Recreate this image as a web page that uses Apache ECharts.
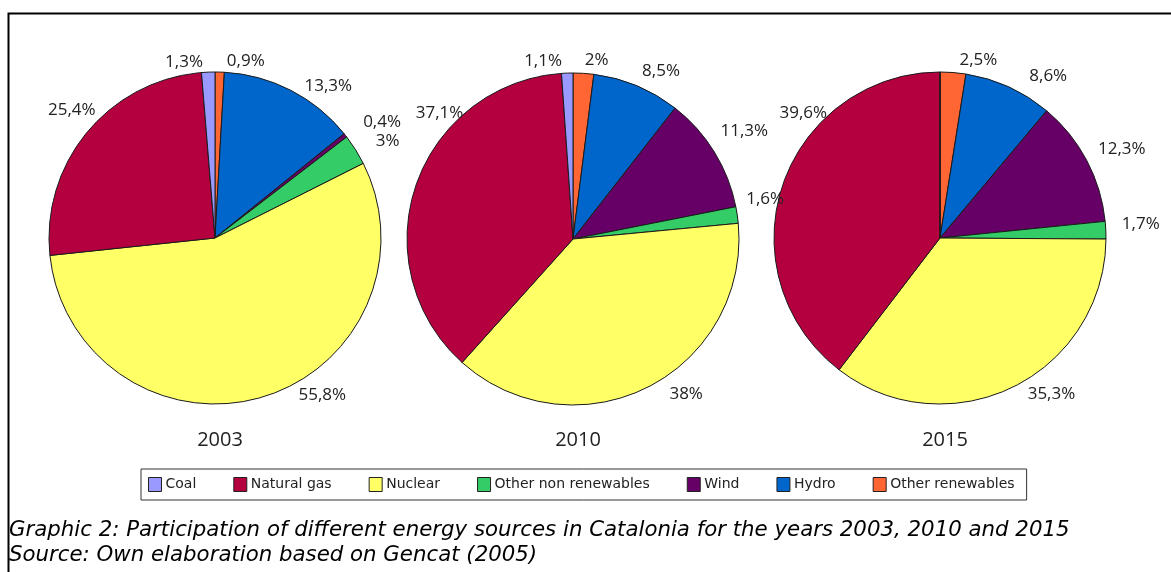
<!DOCTYPE html>
<html>
<head>
<meta charset="utf-8">
<script src="https://cdn.jsdelivr.net/npm/echarts@6/dist/echarts.min.js"></script>
<style>
  html, body { margin: 0; padding: 0; background: #fff; }
  #chart { width: 1171px; height: 572px; }
</style>
</head>
<body>
<div id="chart"></div>
<script>
// Energy sources, in clockwise order starting from 12 o'clock
const sources = ['Other renewables', 'Hydro', 'Wind', 'Other non renewables', 'Nuclear', 'Natural gas', 'Coal'];
// Legend order
const legendOrder = ['Coal', 'Natural gas', 'Nuclear', 'Other non renewables', 'Wind', 'Hydro', 'Other renewables'];
const years = ['2003', '2010', '2015'];
// Share (%) per source, same order as `sources`
const values2003 = [0.9, 13.3, 0.4, 3, 55.8, 25.4, 1.3];
const values2010 = [2, 8.5, 11.3, 1.6, 38, 37.1, 1.1];
const values2015 = [2.5, 8.6, 12.3, 1.7, 35.3, 39.6, 0];
const captionLine1 = 'Graphic 2: Participation of different energy sources in Catalonia for the years 2003, 2010 and 2015';
const captionLine2 = 'Source: Own elaboration based on Gencat (2005)';

const colors = {
  'Coal': '#9999ff',
  'Natural gas': '#b5003f',
  'Nuclear': '#ffff66',
  'Other non renewables': '#33cc66',
  'Wind': '#660066',
  'Hydro': '#0066cc',
  'Other renewables': '#ff6633'
};

// Small nudges for the percentage labels of each pie, [dx, dy] in px
const labelNudge = [
  { 'Coal': [0, -4], 'Other renewables': [2, -5], 'Hydro': [6, 1], 'Wind': [8, -9],
    'Other non renewables': [10, -5], 'Nuclear': [30, -8], 'Natural gas': [18, -18] },
  { 'Coal': [0, -6], 'Other renewables': [-4, -7], 'Hydro': [-2, -9], 'Wind': [-4, -18],
    'Other non renewables': [-2, -15], 'Nuclear': [14, 2], 'Natural gas': [58, -70] },
  { 'Other renewables': [1, -6], 'Hydro': [13, -5], 'Wind': [1, -8],
    'Other non renewables': [5, -6], 'Nuclear': [7, 2], 'Natural gas': [55, -70] }
];

const allValues = [values2003, values2010, values2015];
const centers = [[215, 238], [573, 239], [940, 238]];

function fmt(v) { return String(v).replace('.', ',') + '%'; }

const chart = echarts.init(document.getElementById('chart'), null, { renderer: 'canvas' });

const series = allValues.map((vals, i) => ({
  type: 'pie',
  center: centers[i],
  radius: 166,
  startAngle: 90,
  clockwise: true,
  animation: false,
  avoidLabelOverlap: false,
  data: sources.map((s, k) => ({
    name: s,
    value: vals[k],
    itemStyle: { color: colors[s] },
    label: { show: vals[k] > 0 }
  })),
  itemStyle: { borderColor: '#1a1a1a', borderWidth: 1 },
  label: {
    show: true,
    position: 'outside',
    formatter: p => fmt(p.value),
    fontFamily: 'Open Sans',
    fontSize: 17,
    color: '#222'
  },
  labelLine: { show: false, length: 6, length2: 0 },
  labelLayout: function (params) {
    const n = labelNudge[i][sources[params.dataIndex]] || [0, 0];
    return { dx: n[0], dy: n[1] };
  },
  emphasis: { disabled: true }
}));

const option = {
  backgroundColor: '#fff',
  color: legendOrder.map(n => colors[n]),
  title: years.map((y, i) => ({
    text: y,
    left: centers[i][0],
    top: 425,
    textAlign: 'center',
    textStyle: { fontFamily: 'Open Sans', fontSize: 20, fontWeight: 'normal', color: '#222' }
  })),
  legend: {
    data: legendOrder,
    left: 141,
    top: 469,
    orient: 'horizontal',
    icon: 'rect',
    itemWidth: 13,
    itemHeight: 14,
    itemGap: 37,
    padding: [8, 12, 8, 7],
    borderColor: '#333',
    borderWidth: 1,
    selectedMode: false,
    itemStyle: { borderColor: '#222', borderWidth: 1 },
    textStyle: { fontFamily: 'DejaVu Sans', fontSize: 14, color: '#222', padding: [0, 0, 0, -1] }
  },
  graphic: [
    {
      type: 'polyline',
      shape: { points: [[8.5, 572], [8.5, 13.5], [1171, 13.5]] },
      style: { stroke: '#000', lineWidth: 2, fill: null }
    },
    {
      type: 'text',
      left: 9,
      top: 520,
      style: { text: captionLine1, font: 'italic 21.3px "DejaVu Sans"', fill: '#000' }
    },
    {
      type: 'text',
      left: 9,
      top: 545,
      style: { text: captionLine2, font: 'italic 21.3px "DejaVu Sans"', fill: '#000' }
    }
  ],
  series: series
};

chart.setOption(option);
</script>
</body>
</html>
